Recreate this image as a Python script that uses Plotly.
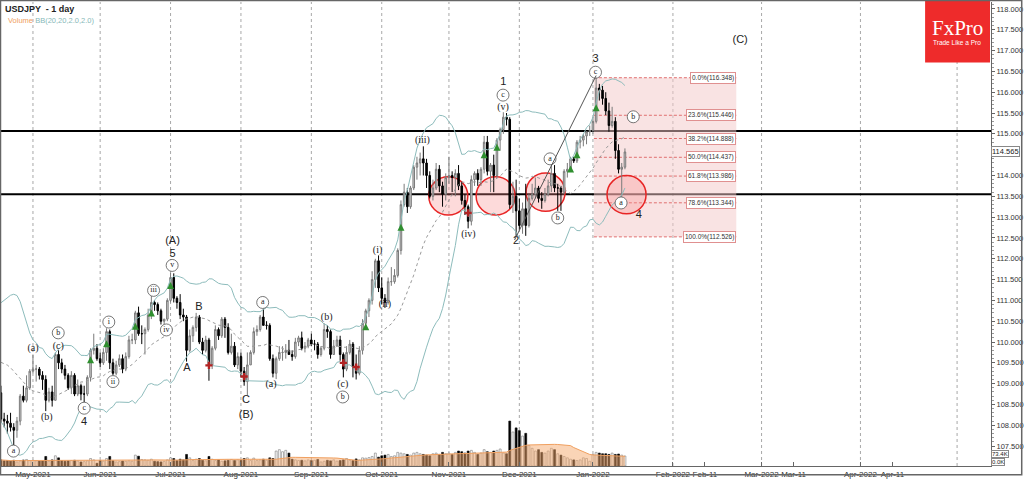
import numpy as np
import pandas as pd
import plotly.graph_objects as go

# ---------------- data ----------------
dates = pd.bdate_range("2021-04-19", "2022-01-17").strftime("%Y-%m-%d").tolist()

pre_closes = [108.90, 108.85, 108.60, 108.90, 109.20, 109.65, 109.80, 110.35, 110.70, 110.60,
              110.65, 110.20, 109.75, 109.85, 109.25, 109.65, 109.40, 109.05, 108.95, 108.75, 108.80]

opens = [
    # Apr
    108.78,108.15,108.10,108.05,107.95,107.88,108.10,108.70,108.60,108.90,
    # May
    109.30,109.35,109.35,109.20,109.10,108.60,108.80,108.60,109.70,109.50,109.35,109.20,108.90,109.20,108.75,108.95,108.75,108.75,109.15,109.80,109.85,
    # Jun
    109.60,109.50,109.75,110.25,109.50,109.25,109.45,109.60,109.35,109.65,110.05,110.05,110.70,110.20,110.20,110.30,110.65,110.95,110.90,110.75,110.50,110.55,
    # Jul
    111.00,111.55,111.05,110.95,110.65,110.60,109.80,110.15,110.35,110.60,110.00,109.80,110.05,109.45,109.85,110.30,110.15,110.55,110.35,109.75,109.90,109.45,
    # Aug
    109.65,109.30,109.05,109.45,109.75,110.25,110.30,110.60,110.40,110.40,109.60,109.25,109.60,109.75,109.75,109.80,109.70,109.65,110.00,110.10,109.85,109.90,
    # Sep
    110.05,109.95,109.95,109.70,109.85,110.30,110.25,109.70,109.90,110.05,109.70,109.35,109.75,109.95,109.40,109.25,109.80,110.45,110.75,111.00,111.50,111.95,
    # Oct
    111.30,111.05,110.95,111.45,111.45,111.60,112.20,113.30,113.60,113.25,113.70,114.20,114.30,114.40,114.30,114.00,113.50,113.70,114.15,113.75,113.55,
    # Nov
    113.95,114.00,113.95,114.05,113.75,113.40,113.25,112.90,113.90,114.05,113.90,114.15,114.80,114.10,114.25,114.00,114.85,115.10,115.40,115.35,113.30,113.50,
    # Dec
    113.15,112.80,113.20,112.80,113.45,113.55,113.70,113.45,113.40,113.55,113.75,114.05,113.70,113.70,113.60,114.10,114.15,114.40,114.35,114.80,114.85,114.95,115.05,
    # Jan
    115.08,115.30,116.10,116.05,115.85,115.55,115.20,115.30,114.60,114.15,114.20,
]
highs = [
    108.95,108.30,108.25,108.30,108.05,108.20,108.75,108.95,109.20,109.35,
    109.70,109.45,109.40,109.30,109.20,108.90,108.95,109.75,109.80,109.60,109.45,109.25,109.30,109.25,109.10,109.00,108.95,109.20,109.85,110.20,109.95,
    109.75,109.85,110.33,110.30,109.60,109.55,109.70,109.70,109.75,110.15,110.20,110.75,110.85,110.40,110.35,110.80,111.11,111.00,110.95,110.80,110.55,111.05,
    111.66,111.65,111.10,111.15,110.80,110.65,110.30,110.40,110.70,110.65,110.10,110.15,110.10,109.90,110.40,110.35,110.60,110.60,110.45,110.20,110.00,109.75,
    109.75,109.40,109.75,109.80,110.35,110.40,110.65,110.80,110.50,110.45,109.70,109.65,109.90,109.90,109.95,110.05,109.80,110.10,110.15,110.25,110.00,110.10,
    110.20,110.05,110.00,109.90,110.45,110.40,110.30,110.05,110.15,110.15,109.75,109.90,110.05,110.00,109.70,109.90,110.55,110.80,111.05,111.70,112.00,112.08,
    111.55,111.15,111.55,111.80,111.75,112.25,113.40,113.80,113.70,113.75,114.25,114.45,114.55,114.70,114.40,114.10,113.90,114.30,114.25,113.85,114.05,
    114.45,114.10,114.15,114.25,113.85,113.55,113.30,114.00,114.10,114.15,114.20,114.95,114.95,114.30,114.50,114.90,115.15,115.52,115.50,115.40,113.85,113.90,
    113.45,113.35,113.80,113.55,113.80,113.95,113.75,113.60,113.70,113.90,114.30,114.25,113.80,113.75,114.15,114.30,114.45,114.45,114.85,114.95,115.00,115.05,115.20,
    115.40,116.35,116.20,116.15,116.00,115.75,115.65,115.40,114.75,114.30,114.65,
]
lows = [
    108.08,107.95,107.80,107.85,107.48,107.70,108.00,108.55,108.55,108.85,
    109.25,109.05,109.10,108.85,108.34,108.55,108.45,108.60,109.35,109.25,109.10,108.85,108.75,108.70,108.70,108.60,108.55,108.70,109.05,109.70,109.55,
    109.40,109.45,109.55,109.35,109.20,109.20,109.40,109.25,109.30,109.60,109.95,109.95,110.15,109.95,109.70,110.25,110.55,110.75,110.65,110.42,110.42,110.50,
    110.95,110.95,110.80,110.55,110.50,109.53,109.75,110.00,110.25,109.95,109.70,109.75,109.07,109.35,109.80,110.05,110.10,110.10,109.70,109.70,109.40,109.35,
    109.15,108.95,108.72,109.45,109.70,110.15,110.25,110.40,110.30,109.55,109.15,109.11,109.55,109.55,109.60,109.70,109.55,109.60,109.90,109.80,109.75,109.85,
    109.90,109.80,109.60,109.65,109.80,110.10,109.60,109.70,109.90,109.55,109.15,109.30,109.70,109.15,109.10,109.20,109.70,110.30,110.60,110.90,111.30,111.20,
    110.90,110.82,110.90,111.35,111.40,111.55,112.10,113.25,113.10,113.20,113.65,113.90,114.00,114.00,113.70,113.45,113.40,113.65,113.60,113.25,113.40,
    113.80,113.60,113.50,113.65,113.30,113.05,112.73,112.80,113.75,113.75,113.75,114.05,114.00,113.60,113.60,113.95,114.60,115.00,115.20,113.20,113.10,112.53,
    112.70,112.60,112.55,112.75,113.40,113.45,113.35,113.20,113.35,113.50,113.60,113.60,113.15,113.15,113.55,113.95,114.10,114.30,114.30,114.65,114.70,114.75,114.95,
    115.00,115.25,115.80,115.70,115.45,115.05,115.15,114.40,114.05,113.48,114.15,
]
closes = [
    108.15,108.10,108.05,107.95,107.88,108.10,108.70,108.60,108.90,109.30,
    109.35,109.35,109.20,109.10,108.60,108.80,108.60,109.70,109.50,109.35,109.20,108.90,109.20,108.75,108.95,108.75,108.75,109.15,109.80,109.85,109.60,
    109.50,109.75,110.25,109.50,109.25,109.45,109.60,109.35,109.65,110.05,110.05,110.70,110.20,110.20,110.30,110.65,110.95,110.90,110.75,110.50,110.55,111.00,
    111.55,111.05,110.95,110.65,110.60,109.80,110.15,110.35,110.60,110.00,109.80,110.05,109.45,109.85,110.30,110.15,110.55,110.35,109.75,109.90,109.45,109.65,
    109.30,109.05,109.45,109.75,110.25,110.30,110.60,110.40,110.40,109.60,109.25,109.60,109.75,109.75,109.80,109.70,109.65,110.00,110.10,109.85,109.90,110.05,
    109.95,109.95,109.70,109.85,110.30,110.25,109.70,109.90,110.05,109.70,109.35,109.75,109.95,109.40,109.25,109.80,110.45,110.75,111.00,111.50,111.95,111.30,
    111.05,110.95,111.45,111.45,111.60,112.20,113.30,113.60,113.25,113.70,114.20,114.30,114.40,114.30,114.00,113.50,113.70,114.15,113.75,113.55,113.95,
    114.00,113.95,114.05,113.75,113.40,113.25,112.90,113.90,114.05,113.90,114.15,114.80,114.10,114.25,114.00,114.85,115.10,115.40,115.35,113.30,113.50,113.15,
    112.80,113.20,112.80,113.45,113.55,113.70,113.45,113.40,113.55,113.75,114.05,113.70,113.70,113.60,114.10,114.15,114.40,114.35,114.80,114.85,114.95,115.05,115.08,
    115.30,116.10,116.05,115.85,115.55,115.20,115.30,114.60,114.15,114.20,114.565,
]
volumes_k = [
    45,38,40,36,42,30,38,44,48,40,
    42,38,36,40,70,35,45,75,60,40,35,38,40,42,36,30,32,38,55,45,20,
    40,35,55,70,38,30,32,36,34,38,35,80,72,48,45,42,50,35,32,30,34,45,
    60,55,40,50,45,85,60,40,50,55,42,38,70,50,40,45,35,38,42,48,40,45,
    42,55,60,40,58,40,45,50,42,60,55,110,120,105,115,95,50,45,40,42,38,45,
    40,42,48,30,35,42,38,45,36,40,45,55,42,40,52,45,60,58,62,70,95,65,
    75,80,85,70,75,100,95,90,85,80,95,100,90,85,80,75,90,95,85,100,90,
    95,85,100,110,105,95,110,115,100,85,95,120,105,100,110,115,125,95,90,330,250,280,
    260,220,240,150,130,110,120,100,95,110,130,120,90,80,70,60,50,45,40,45,60,55,35,
    85,100,95,90,90,85,95,85,88,80,73.4,
]

tick_labels = ["May-2021", "Jun-2021", "Jul-2021", "Aug-2021", "Sep-2021", "Oct-2021", "Nov-2021",
               "Dec-2021", "Jan-2022", "Feb-2022", "Feb-11", "Mar-2022", "Mar-11", "Apr-2022", "Apr-11"]
tick_pos = [0, 21, 43, 65, 87, 109, 130, 152, 175, 200, 210, 227.7, 237.7, 258.6, 268.6]
grid_pos = [0, 21, 43, 65, 87, 109, 130, 152, 175, 200, 227.7, 258.6, 288.8]

price_ticks = [107.5, 108.0, 108.5, 109.0, 109.5, 110.0, 110.5, 111.0, 111.5, 112.0, 112.5,
               113.0, 113.5, 114.0, 115.0, 115.5, 116.0, 116.5, 117.0, 117.5, 118.0]

support_resistance = [115.07, 113.55]

fib_pct = [0.0, 23.6, 38.2, 50.0, 61.8, 78.6, 100.0]
fib_levels = [116.348, 115.446, 114.888, 114.437, 113.986, 113.344, 112.526]

circle_x = [129.8, 144.6, 160.2, 185.5]
circle_y = [113.51, 113.51, 113.60, 113.54]

circled_text = ["a", "b", "c", "i", "ii", "iii", "iv", "v", "a", "b", "c", "a", "b", "c", "b", "a"]
circled_x = [-6.1, 7.9, 16.0, 23.7, 25.0, 37.7, 41.7, 43.5, 71.8, 96.8, 146.9, 161.6, 164.0, 175.8, 187.6, 183.8]
circled_y = [107.38, 110.22, 108.41, 110.48, 109.05, 111.24, 110.29, 111.84, 110.95, 108.68, 115.93, 114.40, 112.98, 116.48, 115.41, 113.34]

paren_text = ["(a)", "(b)", "(c)", "(a)", "(b)", "(c)", "(i)", "(ii)", "(iii)", "(iv)", "(v)"]
paren_x = [0.0, 4.3, 7.9, 74.4, 91.8, 96.8, 107.7, 110.0, 121.7, 136.1, 146.9]
paren_y = [109.84, 108.19, 109.90, 108.97, 110.58, 108.99, 112.19, 110.90, 114.85, 112.58, 115.64]

wave_text = ["4", "(A)", "5", "A", "B", "C", "(B)", "1", "2", "3", "4", "(C)"]
wave_x = [16.0, 43.6, 43.6, 48.1, 51.9, 66.6, 66.6, 147.0, 151.0, 175.8, 189.3, 221.0]
wave_y = [108.07, 112.42, 112.10, 109.38, 110.84, 108.60, 108.25, 116.23, 112.41, 116.78, 113.04, 117.26]

buy_x = [18, 23, 32, 37, 43, 104, 115, 141, 145, 168, 170, 176]
buy_y = [109.66, 110.04, 110.46, 110.78, 111.44, 110.45, 112.84, 114.58, 114.76, 114.24, 114.58, 115.71]
sell_x = [55, 66, 97, 101, 136]
sell_y = [109.44, 109.17, 109.50, 109.40, 113.10]

trend_x = [150.5, 176.0]
trend_y = [112.45, 116.40]

# ---------------- derived ----------------
n = len(dates)
x = np.arange(n) - 10  # bar index, 0 = 2021-05-03
all_close = pd.Series(pre_closes + closes)
mid = all_close.rolling(20).mean().values[len(pre_closes):]
sd = all_close.rolling(20).std(ddof=0).values[len(pre_closes):]
upper = mid + 2 * sd
lower = mid - 2 * sd
vol = pd.Series(volumes_k)
vol_ma = vol.rolling(20, min_periods=1).mean().values
up = [c >= o for o, c in zip(opens, closes)]

fig = go.Figure()

# volume
fig.add_trace(go.Bar(
    x=x, y=volumes_k, yaxis="y2", width=0.6,
    marker=dict(color=["white" if u else "black" for u in up],
                line=dict(color=["#7a7a7a" if u else "black" for u in up], width=0.6)),
    hoverinfo="skip", showlegend=False))
fig.add_trace(go.Scatter(
    x=x, y=vol_ma, yaxis="y2", mode="lines", fill="tozeroy",
    line=dict(color="#f0a060", width=1), fillcolor="rgba(246,170,110,0.5)",
    hoverinfo="skip", showlegend=False))

# bollinger
fig.add_trace(go.Scatter(x=x, y=upper, mode="lines", line=dict(color="#8dbcbc", width=1), showlegend=False, hoverinfo="skip"))
fig.add_trace(go.Scatter(x=x, y=lower, mode="lines", line=dict(color="#8dbcbc", width=1), showlegend=False, hoverinfo="skip"))
fig.add_trace(go.Scatter(x=x, y=mid, mode="lines", line=dict(color="#9a9a9a", width=1, dash="dot"), showlegend=False, hoverinfo="skip"))

# candles
fig.add_trace(go.Candlestick(
    x=x, open=opens, high=highs, low=lows, close=closes,
    increasing=dict(fillcolor="#d4d4d4", line=dict(color="#7a7a7a", width=1)),
    decreasing=dict(fillcolor="black", line=dict(color="black", width=1)),
    showlegend=False, hoverinfo="skip"))

# signals
fig.add_trace(go.Scatter(x=buy_x, y=buy_y, mode="markers",
                         marker=dict(symbol="arrow-up", size=7, color="#2f8f2f"),
                         showlegend=False, hoverinfo="skip"))
fig.add_trace(go.Scatter(x=sell_x, y=sell_y, mode="markers",
                         marker=dict(symbol="cross", size=6, color="#b22222"),
                         showlegend=False, hoverinfo="skip"))

# wave labels
fig.add_trace(go.Scatter(x=circled_x, y=circled_y, mode="markers+text", text=circled_text,
                         textposition="middle center",
                         textfont=dict(family="Liberation Serif", size=8, color="#222"),
                         marker=dict(symbol="circle", size=12, color="white", line=dict(color="#555", width=0.8)),
                         showlegend=False, hoverinfo="skip"))
fig.add_trace(go.Scatter(x=paren_x, y=paren_y, mode="text", text=paren_text,
                         textposition="middle center",
                         textfont=dict(family="Liberation Serif", size=10, color="#222"),
                         showlegend=False, hoverinfo="skip"))
fig.add_trace(go.Scatter(x=wave_x, y=wave_y, mode="text", text=wave_text,
                         textposition="middle center",
                         textfont=dict(family="Liberation Sans", size=11, color="#222"),
                         showlegend=False, hoverinfo="skip"))

shapes = []
# month grid
for gx in grid_pos:
    shapes.append(dict(type="line", xref="x", yref="paper", x0=gx, x1=gx, y0=0, y1=1,
                       line=dict(color="#a8a8a8", width=1, dash="3px,3px"), layer="below"))
# fib zone
fib_x0, fib_x1 = 175.3, 219.8
shapes.append(dict(type="rect", xref="x", yref="y", x0=fib_x0, x1=fib_x1,
                   y0=min(fib_levels), y1=max(fib_levels),
                   fillcolor="rgba(244,200,200,0.5)", line=dict(width=0), layer="below"))
for lv in fib_levels:
    shapes.append(dict(type="line", xref="x", yref="y", x0=fib_x0, x1=fib_x1, y0=lv, y1=lv,
                       line=dict(color="#e07070", width=1, dash="3px,2px"), layer="below"))
# support / resistance
for lv in support_resistance:
    shapes.append(dict(type="line", xref="paper", yref="y", x0=0, x1=1, y0=lv, y1=lv,
                       line=dict(color="black", width=2), layer="below"))
# circles
rx, ry = 6.1, 0.46
for cx, cy in zip(circle_x, circle_y):
    shapes.append(dict(type="circle", xref="x", yref="y", x0=cx - rx, x1=cx + rx, y0=cy - ry, y1=cy + ry,
                       fillcolor="rgba(250,140,140,0.32)", line=dict(color="#e82525", width=1.5), layer="below"))
# trend line
shapes.append(dict(type="line", xref="x", yref="y", x0=trend_x[0], x1=trend_x[1], y0=trend_y[0], y1=trend_y[1],
                   line=dict(color="#555", width=1)))
# logo box
shapes.append(dict(type="rect", xref="paper", yref="paper", x0=0.9335, x1=0.999, y0=0.8694, y1=1.004,
                   fillcolor="#ee2b2b", line=dict(width=0)))
# outer frame
shapes.append(dict(type="rect", xref="paper", yref="paper", x0=0.0005, x1=1.031, y0=-0.019, y1=1.0035,
                   line=dict(color="#666", width=1.5)))

annotations = []
for p, lv in zip(fib_pct, fib_levels):
    annotations.append(dict(x=fib_x1, y=lv, xref="x", yref="y", xanchor="right", yanchor="middle",
                            text=f"{p:.1f}%({lv:.3f})", showarrow=False,
                            font=dict(size=6.5, color="#333", family="Liberation Sans"),
                            bgcolor="white", bordercolor="#e09090", borderwidth=1, borderpad=1))
annotations.append(dict(x=1, y=closes[-1], xref="paper", yref="y", xanchor="left", yanchor="middle",
                        text=f"{closes[-1]:.3f}", showarrow=False, xshift=0,
                        font=dict(size=7.5, color="#222", family="Liberation Sans"),
                        bgcolor="white", bordercolor="#888", borderwidth=1, borderpad=0))
annotations.append(dict(x=1, y=0, xref="paper", yref="y2", xanchor="left", yanchor="middle",
                        text=f"{volumes_k[-1]:.1f}K", showarrow=False, xshift=0, yshift=12,
                        font=dict(size=6, color="#222", family="Liberation Sans"),
                        bgcolor="white", bordercolor="#888", borderwidth=1, borderpad=0))
annotations.append(dict(x=1, y=0, xref="paper", yref="y2", xanchor="left", yanchor="middle",
                        text="0.0K", showarrow=False, xshift=0, yshift=4,
                        font=dict(size=6, color="#222", family="Liberation Sans"),
                        bgcolor="white", bordercolor="#888", borderwidth=1, borderpad=0))
annotations.append(dict(x=0.003, y=1.0, xref="paper", yref="paper", xanchor="left", yanchor="top",
                        text="<b>USDJPY  - 1 day</b>", showarrow=False,
                        font=dict(size=9, color="#222", family="Liberation Sans")))
annotations.append(dict(x=0.006, y=0.975, xref="paper", yref="paper", xanchor="left", yanchor="top",
                        text='<span style="color:#f0a060">Volume</span> <span style="color:#86b8b8">BB(20,20,2.0,2.0)</span>',
                        showarrow=False, font=dict(size=7.5, family="Liberation Sans")))
annotations.append(dict(x=0.9657, y=0.944, xref="paper", yref="paper", xanchor="center", yanchor="middle",
                        text="FxPro", showarrow=False,
                        font=dict(size=21, color="white", family="Liberation Serif")))
annotations.append(dict(x=0.9657, y=0.913, xref="paper", yref="paper", xanchor="center", yanchor="middle",
                        text="Trade Like a Pro", showarrow=False,
                        font=dict(size=6.5, color="white", family="Liberation Sans")))

fig.update_layout(
    width=1024, height=479,
    margin=dict(l=0, r=32, t=2, b=10),
    paper_bgcolor="white", plot_bgcolor="white",
    showlegend=False,
    shapes=shapes, annotations=annotations,
    xaxis=dict(range=[-10.3, 299.4], tickvals=tick_pos, ticktext=tick_labels, tickangle=0,
               tickfont=dict(size=8, color="#333", family="Liberation Sans"),
               ticks="inside", ticklen=4, tickcolor="#666", ticklabelstandoff=0,
               showgrid=False, zeroline=False, showline=True, linecolor="#666", linewidth=1,
               rangeslider=dict(visible=False)),
    yaxis=dict(side="right", range=[107.022, 118.167], tickvals=price_ticks,
               ticktext=[f"{v:.3f}" for v in price_ticks],
               tickfont=dict(size=7.5, color="#333", family="Liberation Sans"),
               ticks="outside", ticklen=3, tickcolor="#666", ticklabelstandoff=0,
               minor=dict(dtick=0.1, ticks="outside", ticklen=2, tickcolor="#999"),
               showgrid=False, zeroline=False, showline=True, linecolor="#666", linewidth=1),
    yaxis2=dict(overlaying="y", range=[0, 3409], visible=False, fixedrange=True),
)

fig.write_html("out.html", config={"displayModeBar": False},
               post_script="document.body.style.margin='0px';document.body.style.overflow='hidden';")
